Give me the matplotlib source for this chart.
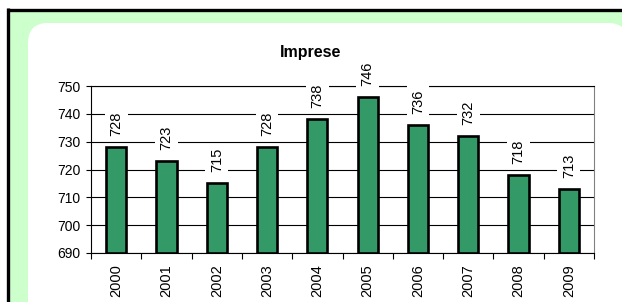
import matplotlib
matplotlib.use("Agg")
import matplotlib.pyplot as plt
from matplotlib.patches import Rectangle, FancyBboxPatch
from matplotlib.lines import Line2D
import numpy as np

plt.rcParams['font.family'] = ['Liberation Sans', 'DejaVu Sans']

years = ["2000", "2001", "2002", "2003", "2004", "2005", "2006", "2007", "2008", "2009"]
values = [728, 723, 715, 728, 738, 746, 736, 732, 718, 713]
title = "Imprese"
yticks = [690, 700, 710, 720, 730, 740, 750]

W, H = 622, 302
fig = plt.figure(figsize=(W / 100, H / 100), dpi=100)
fig.patch.set_facecolor("white")
T = fig.dpi_scale_trans

def px(x, y):
    return (x / 100, (H - y) / 100)

# green background
fig.add_artist(Rectangle(px(8, 310), (W + 10 - 8) / 100, (310 - 10) / 100,
                         transform=T, facecolor="#CCFFCC", edgecolor="none", zorder=-5))
# white rounded inner panel
fig.add_artist(FancyBboxPatch(px(28, 330), (628 - 28) / 100, (330 - 23) / 100,
                              boxstyle="round,pad=0,rounding_size=0.2",
                              transform=T, facecolor="white", edgecolor="none", zorder=-4))
# black border lines (top and left)
fig.add_artist(Line2D([6.5 / 100, (W + 5) / 100], [(H - 9.5) / 100] * 2, transform=T,
                      color="black", lw=2.4, solid_capstyle="butt", zorder=-3))
fig.add_artist(Line2D([7.5 / 100] * 2, [(H - 8) / 100, -0.05], transform=T,
                      color="black", lw=2.4, solid_capstyle="butt", zorder=-3))

left, right, top, bottom = 91, 594, 86, 253
ax = fig.add_axes([left / W, 1 - bottom / H, (right - left) / W, (bottom - top) / H])
ax.set_facecolor("white")

x = np.arange(len(years))
ax.bar(x, [v - 690 for v in values], bottom=690, width=0.4, color="#339966",
       edgecolor="black", linewidth=1.9, zorder=3)

ax.set_xlim(-0.5, len(years) - 0.5)
ax.set_ylim(690, 750)
ax.set_yticks(yticks)
ax.set_yticklabels([str(t) for t in yticks], fontsize=10)
ax.yaxis.grid(True, color="black", linewidth=0.8, zorder=0)
ax.set_axisbelow(True)

ax.set_xticks(x)
ax.set_xticklabels(years, rotation=90, fontsize=10.5)
ax.set_xticks(np.arange(len(years) + 1) - 0.5, minor=True)
ax.tick_params(axis="x", which="major", length=0, pad=8)
ax.tick_params(axis="x", which="minor", length=4, width=0.8, color="black", direction="out")
ax.tick_params(axis="y", length=3.5, width=0.8, pad=4, direction="out")

for s in ["left", "bottom", "top"]:
    ax.spines[s].set_color("black")
    ax.spines[s].set_linewidth(0.8)
ax.spines["right"].set_color("#808080")
ax.spines["right"].set_linewidth(0.8)

for xi, v in zip(x, values):
    ax.annotate(str(v), (xi, v), xytext=(0, 8), textcoords="offset points",
                rotation=90, ha="center", va="bottom", fontsize=10.5,
                bbox=dict(boxstyle="square,pad=0.3", facecolor="white", edgecolor="none"),
                annotation_clip=False, zorder=5)

fig.text(0.5, 1 - 53 / H, title, ha="center", va="center", fontsize=11.5, fontweight="bold")

fig.savefig("out.png", dpi=100)
